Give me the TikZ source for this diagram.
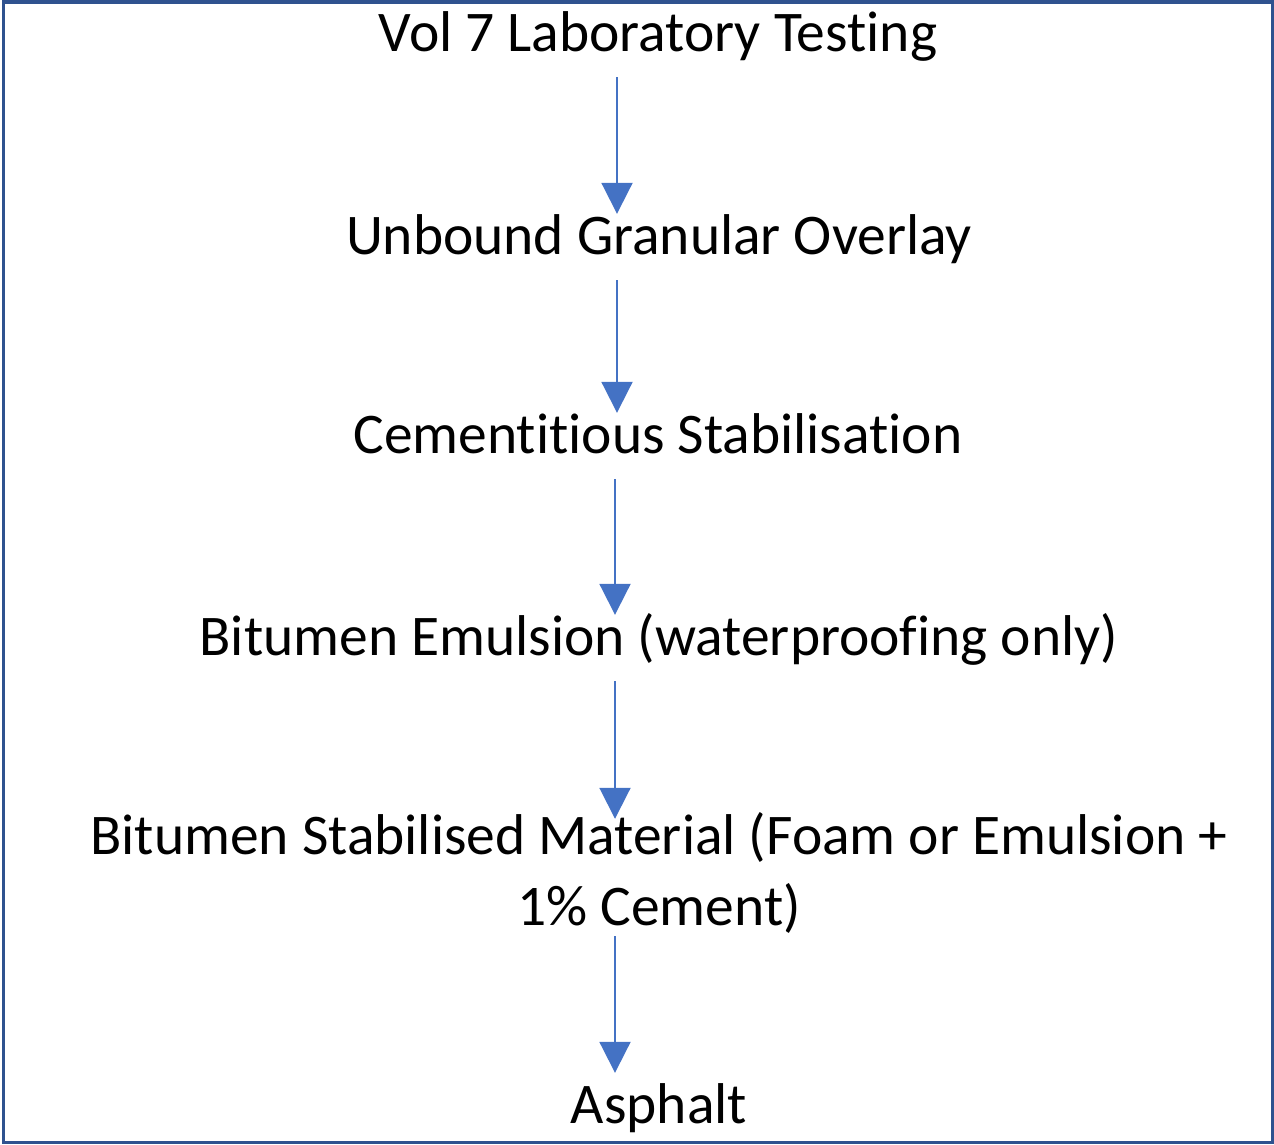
\documentclass[tikz,border=0pt]{standalone}
\usepackage{fontspec}
\setmainfont{Carlito}[Ligatures=NoCommon]
\usetikzlibrary{arrows.meta}
\definecolor{frameblue}{HTML}{2F528F}
\definecolor{arrowblue}{HTML}{4472C4}
\begin{document}
\begin{tikzpicture}[x=1pt, y=-1pt,
		step label/.style={anchor=base, inner sep=0pt, text height=40pt, text depth=12pt,
			font=\fontsize{57.5}{71}\selectfont},
		flow/.style={draw=arrowblue, line width=2pt, -{Triangle[width=31pt, length=31pt]},
			arrowblue, shorten <=14pt, shorten >=0pt}]
			\useasboundingbox (0,0) rectangle (1274,1144);
			% frame
			\draw[frameblue, line width=3.5pt] (3.5,1.75) rectangle (1272.25,1142.25);
			% steps
			\node[step label] (vol)    at (658,51)   {Vol 7 Laboratory Testing};
			\node[step label] (unbound) at (659,254)  {Unbound Granular Overlay};
			\node[step label] (cement) at (658,453)  {Cementitious Stabilisation};
			\node[step label] (emul)   at (659,655)  {Bitumen Emulsion (waterproofing only)};
			\node[anchor=base, inner sep=0pt, align=center, font=\fontsize{57.5}{71}\selectfont]
				(bsm) at (659,925) {Bitumen Stabilised Material (Foam or Emulsion +\\1\% Cement)};
			\node[step label] (asphalt) at (659,1123) {Asphalt};
			% arrows
			\coordinate (spine) at (615,0);
			\draw[flow] (vol.south -| 617,0) -- (unbound.north -| 617,0);
			\draw[flow] (unbound.south -| 617,0) -- (cement.north -| 617,0);
			\draw[flow] (cement.south -| spine) -- (emul.north -| spine);
			\draw[flow, shorten >=-7pt] (emul.south -| spine) -- (bsm.north -| spine);
			\draw[flow, shorten <=3pt, shorten >=10pt] (bsm.south -| spine) -- (asphalt.north -| spine);
		\end{tikzpicture}
\end{document}
